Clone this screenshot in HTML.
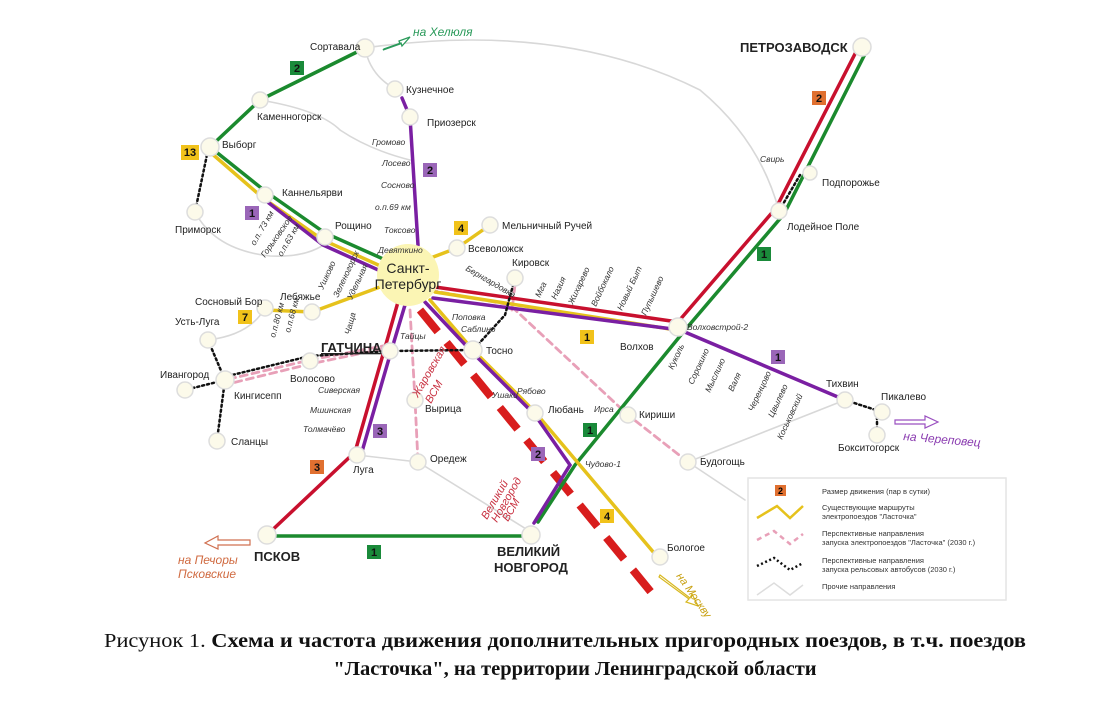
<!DOCTYPE html>
<html><head><meta charset="utf-8"><style>
html,body{margin:0;padding:0;background:#fff;}
svg{display:block}
text{font-family:"Liberation Sans",sans-serif;}
.s{font-size:10px;fill:#222}
.i{font-size:8.5px;font-style:italic;fill:#333}
.b{font-size:13px;font-weight:bold;fill:#222}
.n{fill:#fcfaea;stroke:#ddd;stroke-width:1.5}
.cap{font-family:"Liberation Serif",serif;font-size:20.5px;fill:#111}
</style></head><body>
<svg width="1111" height="702" viewBox="0 0 1111 702" xmlns="http://www.w3.org/2000/svg">
<g fill="none" stroke-linecap="round">
<g stroke="#d8d8d8" stroke-width="1.6">
<path d="M365,48 Q560,20 700,90 Q760,140 779,211"/>
<path d="M365,48 Q370,75 395,89"/>
<path d="M260,100 Q320,110 340,130 Q370,150 410,160"/>
<path d="M195,212 Q215,250 270,256 Q310,258 330,240"/>
<path d="M208,340 Q250,335 265,308"/>
<path d="M357,455 L418,462 L531,532"/>
<path d="M688,462 L845,400"/>
<path d="M688,462 L745,500"/>
</g>
<path d="M420,310 L655,597" stroke="#d81d1d" stroke-width="8" stroke-dasharray="28,14" stroke-linecap="butt"/>
<g stroke="#e8a0b8" stroke-width="2.8" stroke-dasharray="7,5">
<path d="M430,290 L510,305 L628,415 L688,462"/>
<path d="M388,345 L310,360 L225,380"/>
<path d="M382,349 L310,364 L228,384"/>
<path d="M410,310 L415,400 L418,462"/>
<path d="M515,285 L512,310"/>
</g>
<g stroke="#1b8a2e" stroke-width="3.5">
<path d="M365,48 L260,100 L210,147 L265,191 L325,233 L390,262"/>
<path d="M866,52 L784,214 L685,330 L575,465 L538,522"/>
<path d="M267,536 L531,536"/>
</g>
<g stroke="#c8102e" stroke-width="3.5">
<path d="M858,48 L776,208 L678,322"/>
<path d="M435,287 L678,322"/>
<path d="M398,302 L384,351 L355,452 L267,535"/>
</g>
<g stroke="#e6c21c" stroke-width="3.5">
<path d="M210,152 L263,198 L323,240 L385,268"/>
<path d="M420,262 L457,248 L490,225"/>
<path d="M435,292 L676,330"/>
<path d="M380,287 L312,312 L265,310"/>
<path d="M430,300 L473,350 L535,412 L660,560"/>
</g>
<g stroke="#7a1fa2" stroke-width="3.5">
<path d="M402,98 L410,117 L418,245"/>
<path d="M265,200 L323,245 L385,273"/>
<path d="M433,298 L680,330 L845,400"/>
<path d="M405,305 L390,355 L361,455"/>
<path d="M425,302 L473,353 L535,415 L570,465 L534,523"/>
</g>
<g stroke="#111" stroke-width="2.5" stroke-dasharray="2,3">
<path d="M208,150 L195,212"/>
<path d="M208,340 L225,380 L185,390"/>
<path d="M225,380 L217,440"/>
<path d="M228,376 L310,356 L390,351 L473,350 L505,315 L515,278"/>
<path d="M779,211 L800,175"/>
<path d="M845,400 L882,412"/>
<path d="M877,412 L877,435"/>
</g>
</g>
<path d="M383,50 L400,44 L399,41 L410,37 L402,46 L401,43 L384,49 Z" fill="#fff" stroke="#2a9a5a" stroke-width="1.3"/>
<text x="413" y="36" style="font-size:12px;font-style:italic;fill:#2a9a5a">на Хелюля</text>
<path d="M895,420 L925,420 L925,416 L938,422 L925,428 L925,424 L895,424Z" fill="#fff" stroke="#9a50c0" stroke-width="1.2"/>
<text x="903" y="440" transform="rotate(5 903 440)" style="font-size:12px;font-style:italic;fill:#8a3bb0">на Череповец</text>
<path d="M250,540 L218,540 L218,536 L205,543 L218,549 L218,545 L250,545Z" fill="#fff" stroke="#d07050" stroke-width="1.2"/>
<text x="178" y="564" style="font-size:12px;font-style:italic;fill:#d06a40">на Печоры</text>
<text x="178" y="578" style="font-size:12px;font-style:italic;fill:#d06a40">Псковские</text>
<path d="M660,575 L690,598 L692,594 L698,606 L686,602 L689,599 L659,577Z" fill="#fff" stroke="#d8b820" stroke-width="1.2"/>
<text x="676" y="576" transform="rotate(55 676 576)" style="font-size:11px;font-style:italic;fill:#c8a010">на Москву</text>
<g class="n">
<circle cx="365" cy="48" r="9"/><circle cx="395" cy="89" r="8"/><circle cx="410" cy="117" r="8"/>
<circle cx="260" cy="100" r="8"/><circle cx="210" cy="147" r="9"/><circle cx="195" cy="212" r="8"/>
<circle cx="265" cy="195" r="8"/><circle cx="325" cy="237" r="8"/><circle cx="457" cy="248" r="8"/>
<circle cx="490" cy="225" r="8"/><circle cx="515" cy="278" r="8"/><circle cx="265" cy="308" r="8"/>
<circle cx="312" cy="312" r="8"/><circle cx="208" cy="340" r="8"/><circle cx="185" cy="390" r="8"/>
<circle cx="225" cy="380" r="9"/><circle cx="217" cy="441" r="8"/><circle cx="310" cy="361" r="8"/>
<circle cx="390" cy="351" r="8"/><circle cx="473" cy="350" r="9"/><circle cx="415" cy="400" r="8"/>
<circle cx="418" cy="462" r="8"/><circle cx="357" cy="455" r="8"/><circle cx="535" cy="413" r="8"/>
<circle cx="267" cy="535" r="9"/><circle cx="531" cy="535" r="9"/><circle cx="678" cy="327" r="9"/>
<circle cx="628" cy="415" r="8"/><circle cx="688" cy="462" r="8"/><circle cx="845" cy="400" r="8"/>
<circle cx="882" cy="412" r="8"/><circle cx="877" cy="435" r="8"/><circle cx="779" cy="211" r="8"/>
<circle cx="810" cy="173" r="7"/><circle cx="862" cy="47" r="9"/><circle cx="660" cy="557" r="8"/>
</g>
<circle cx="408" cy="275" r="31" fill="#fbf5b4"/>
<text x="408" y="273" text-anchor="middle" style="font-size:14px;fill:#222">Санкт-</text>
<text x="408" y="289" text-anchor="middle" style="font-size:14px;fill:#222">Петербург</text>
<g class="s">
<text x="310" y="50">Сортавала</text><text x="406" y="93">Кузнечное</text><text x="427" y="126">Приозерск</text>
<text x="257" y="120">Каменногорск</text><text x="222" y="148">Выборг</text><text x="175" y="233">Приморск</text>
<text x="282" y="196">Каннельярви</text><text x="335" y="229">Рощино</text><text x="468" y="252">Всеволожск</text>
<text x="502" y="229">Мельничный Ручей</text><text x="512" y="266">Кировск</text><text x="195" y="305">Сосновый Бор</text>
<text x="280" y="300">Лебяжье</text><text x="175" y="325">Усть-Луга</text><text x="160" y="378">Ивангород</text>
<text x="234" y="399">Кингисепп</text><text x="231" y="445">Сланцы</text><text x="290" y="382">Волосово</text>
<text x="486" y="354">Тосно</text><text x="425" y="412">Вырица</text><text x="430" y="462">Оредеж</text>
<text x="353" y="473">Луга</text><text x="548" y="413">Любань</text><text x="620" y="350">Волхов</text>
<text x="639" y="418">Кириши</text><text x="700" y="465">Будогощь</text><text x="826" y="387">Тихвин</text>
<text x="881" y="400">Пикалево</text><text x="838" y="451">Бокситогорск</text><text x="787" y="230">Лодейное Поле</text>
<text x="822" y="186">Подпорожье</text><text x="667" y="551">Бологое</text>
</g>
<g class="b"><text x="740" y="52">ПЕТРОЗАВОДСК</text><text x="321" y="352" text-decoration="underline">ГАТЧИНА</text>
<text x="254" y="561">ПСКОВ</text><text x="497" y="556">ВЕЛИКИЙ</text><text x="494" y="572">НОВГОРОД</text></g>
<g class="i">
<text x="372" y="145">Громово</text><text x="382" y="166">Лосево</text><text x="381" y="188">Сосново</text>
<text x="375" y="210">о.п.69 км</text><text x="384" y="233">Токсово</text><text x="378" y="253">Девяткино</text>
<text x="687" y="330">Волховстрой-2</text><text x="585" y="467">Чудово-1</text><text x="594" y="412">Ирса</text>
<text x="492" y="398">Ушаки</text><text x="517" y="394">Рябово</text>
<text x="452" y="320">Поповка</text><text x="461" y="332">Саблино</text><text x="400" y="339">Тайцы</text>
<text x="318" y="393">Сиверская</text><text x="310" y="413">Мшинская</text><text x="303" y="432">Толмачёво</text>
<text x="760" y="162">Свирь</text>
<text transform="translate(465,270) rotate(30)">Бернгардовка</text>
<text transform="translate(255,246) rotate(-60)">о.п. 73 км</text>
<text transform="translate(265,258) rotate(-55)">Горьковское</text>
<text transform="translate(282,257) rotate(-60)">о.п.63 км</text>
<text transform="translate(323,290) rotate(-65)">Ушково</text>
<text transform="translate(338,298) rotate(-65)">Зеленогорск</text>
<text transform="translate(352,300) rotate(-65)">Удельная</text>
<text transform="translate(275,338) rotate(-75)">о.п.80 км</text>
<text transform="translate(290,333) rotate(-75)">о.п.68 км</text>
<text transform="translate(540,298) rotate(-65)">Мга</text><text transform="translate(556,300) rotate(-65)">Назия</text>
<text transform="translate(573,305) rotate(-65)">Жихарево</text><text transform="translate(596,307) rotate(-65)">Войбокало</text>
<text transform="translate(622,311) rotate(-65)">Новый Быт</text><text transform="translate(646,316) rotate(-65)">Пупышево</text>
<text transform="translate(673,370) rotate(-65)">Куколь</text><text transform="translate(693,385) rotate(-65)">Сорокино</text>
<text transform="translate(710,393) rotate(-65)">Мыслино</text><text transform="translate(733,392) rotate(-65)">Валя</text>
<text transform="translate(753,412) rotate(-65)">Черенцово</text><text transform="translate(773,418) rotate(-65)">Цвылево</text>
<text transform="translate(782,440) rotate(-65)">Коськовский</text>
<text transform="translate(350,335) rotate(-75)">Чаща</text>
</g>
<g style="font-size:11px;font-style:italic;fill:#c83040">
<text transform="translate(418,398) rotate(-60)">Жаровская</text><text transform="translate(431,404) rotate(-60)">ВСМ</text>
<text transform="translate(487,520) rotate(-60)">Великий</text><text transform="translate(497,523) rotate(-60)">Новгород</text>
<text transform="translate(508,522) rotate(-60)">ВСМ</text>
</g>
<g style="font-size:11px;font-weight:bold" text-anchor="middle">
<rect x="290" y="61" width="14" height="14" fill="#1a8a3a"/><text x="297" y="72" fill="#111">2</text>
<rect x="181" y="145" width="18" height="15" fill="#f1c21a"/><text x="190" y="156" fill="#111">13</text>
<rect x="245" y="206" width="14" height="14" fill="#9a66b8"/><text x="252" y="217" fill="#111">1</text>
<rect x="423" y="163" width="14" height="14" fill="#9a66b8"/><text x="430" y="174" fill="#111">2</text>
<rect x="454" y="221" width="14" height="14" fill="#f1c21a"/><text x="461" y="232" fill="#111">4</text>
<rect x="238" y="310" width="14" height="14" fill="#f1c21a"/><text x="245" y="321" fill="#111">7</text>
<rect x="373" y="424" width="14" height="14" fill="#9a66b8"/><text x="380" y="435" fill="#111">3</text>
<rect x="310" y="460" width="14" height="14" fill="#e07030"/><text x="317" y="471" fill="#111">3</text>
<rect x="531" y="447" width="14" height="14" fill="#9a66b8"/><text x="538" y="458" fill="#111">2</text>
<rect x="367" y="545" width="14" height="14" fill="#1a8a3a"/><text x="374" y="556" fill="#111">1</text>
<rect x="600" y="509" width="14" height="14" fill="#f1c21a"/><text x="607" y="520" fill="#111">4</text>
<rect x="583" y="423" width="14" height="14" fill="#1a8a3a"/><text x="590" y="434" fill="#111">1</text>
<rect x="580" y="330" width="14" height="14" fill="#f1c21a"/><text x="587" y="341" fill="#111">1</text>
<rect x="771" y="350" width="14" height="14" fill="#9a66b8"/><text x="778" y="361" fill="#111">1</text>
<rect x="757" y="247" width="14" height="14" fill="#1a8a3a"/><text x="764" y="258" fill="#111">1</text>
<rect x="812" y="91" width="14" height="14" fill="#e07030"/><text x="819" y="102" fill="#111">2</text>
</g>
<rect x="748" y="478" width="258" height="122" fill="#fff" stroke="#e4e4e4" stroke-width="1.5"/>
<rect x="775" y="485" width="11" height="11" fill="#e07030"/><text x="780.5" y="494" text-anchor="middle" style="font-size:9px;font-weight:bold">2</text>
<g fill="none" stroke-width="2.5">
<path d="M757,518 L777,506 L790,518 L803,506" stroke="#e6c21c"/>
<path d="M757,540 L774,531 L790,544 L803,534" stroke="#e8a0b8" stroke-dasharray="5,4"/>
<path d="M757,566 L774,558 L790,570 L803,563" stroke="#111" stroke-dasharray="2,2.5"/>
<path d="M757,595 L774,583 L790,595 L803,585" stroke="#ddd" stroke-width="1.5"/>
</g>
<g style="font-size:7.5px;fill:#333">
<text x="822" y="494">Размер движения (пар в сутки)</text>
<text x="822" y="510">Существующие маршруты</text><text x="822" y="519">электропоездов "Ласточка"</text>
<text x="822" y="536">Перспективные направления</text><text x="822" y="545">запуска электропоездов "Ласточка" (2030 г.)</text>
<text x="822" y="563">Перспективные направления</text><text x="822" y="572">запуска рельсовых автобусов (2030 г.)</text>
<text x="822" y="589">Прочие направления</text>
</g>
<text x="565" y="647" text-anchor="middle" class="cap" textLength="922" lengthAdjust="spacingAndGlyphs">Рисунок 1.  <tspan font-weight="bold">Схема и частота движения дополнительных пригородных поездов, в т.ч. поездов</tspan></text>
<text x="575" y="675" text-anchor="middle" class="cap" font-weight="bold">"Ласточка", на территории Ленинградской области</text>
</svg>
</body></html>
